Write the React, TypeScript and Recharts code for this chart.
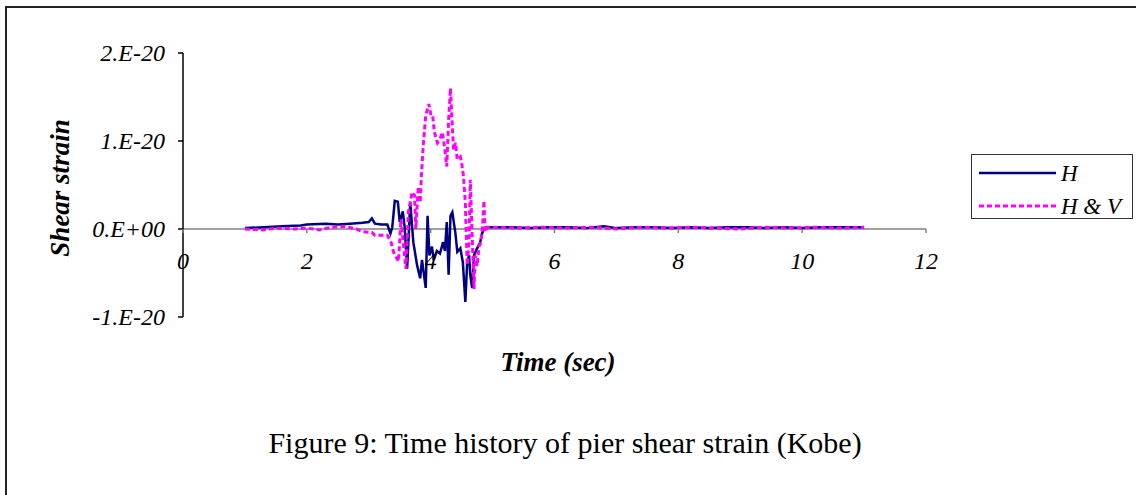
import React from "react";
import { LineChart, Line, XAxis, YAxis, ReferenceLine } from "recharts";

// ---- data (strain in units of 1E-20) ----
const hTime = [
  1.0, 1.3, 1.6, 1.9, 2.0, 2.3, 2.5, 2.7, 2.9, 3.0, 3.05, 3.1, 3.2, 3.3, 3.35, 3.38, 3.42, 3.47, 3.5, 3.55,
  3.58, 3.62, 3.67, 3.72, 3.78, 3.83, 3.86, 3.92, 3.95, 3.98, 4.02, 4.05, 4.1, 4.15, 4.2, 4.23, 4.26, 4.29,
  4.32, 4.35, 4.4, 4.43, 4.48, 4.52, 4.56, 4.59, 4.62, 4.64, 4.67, 4.7, 4.75, 4.8, 4.83, 4.86, 4.9, 5.0,
  5.3, 5.6, 5.9, 6.2, 6.5, 6.8, 7.0, 7.3, 7.6, 7.9, 8.2, 8.5, 8.8, 9.1, 9.4, 9.7, 10.0, 10.3, 10.6, 11.0,
];
const hStrain = [
  0.01, 0.02, 0.03, 0.04, 0.05, 0.06, 0.05, 0.06, 0.07, 0.08, 0.12, 0.06, 0.05, 0.05, -0.05, 0.02, 0.32, 0.31, 0.08, 0.2,
  0.02, -0.45, 0.3, -0.15, -0.41, -0.56, -0.35, -0.67, 0.15, -0.3, -0.2, -0.35, -0.25, -0.28, -0.15, -0.25, 0.08, -0.52,
  0.15, 0.19, -0.05, -0.26, -0.22, -0.38, -0.83, -0.38, -0.3, -0.52, -0.67, -0.3, -0.22, -0.15, -0.05, 0.0, 0.02, 0.02,
  0.02, 0.01, 0.02, 0.02, 0.01, 0.03, 0.01, 0.02, 0.02, 0.01, 0.02, 0.01, 0.02, 0.02, 0.01, 0.02, 0.01, 0.02, 0.02, 0.02,
];

const hvTime = [
  1.0, 1.3, 1.5, 1.8, 2.0, 2.2, 2.4, 2.6, 2.8, 2.9, 3.05, 3.1, 3.3, 3.36, 3.4, 3.48, 3.52, 3.6, 3.64, 3.7,
  3.74, 3.76, 3.8, 3.83, 3.85, 3.88, 3.92, 3.97, 4.0, 4.03, 4.06, 4.11, 4.15, 4.19, 4.23, 4.26, 4.29, 4.32,
  4.35, 4.37, 4.4, 4.43, 4.48, 4.5, 4.53, 4.56, 4.59, 4.62, 4.64, 4.67, 4.7, 4.72, 4.75, 4.78, 4.81, 4.84,
  4.86, 4.88, 4.92, 5.0, 5.4, 5.8, 6.2, 6.6, 7.0, 7.4, 7.8, 8.2, 8.6, 9.0, 9.4, 9.8, 10.2, 10.6, 11.0,
];
const hvStrain = [
  0.0, -0.01, 0.01, 0.0, 0.01, -0.01, 0.02, 0.03, 0.0, -0.03, -0.04, -0.07, -0.07, -0.15, -0.26, -0.37, 0.11, -0.45, 0.19, 0.42,
  0.38, 0.0, 0.48, 0.3, 0.6, 0.95, 1.29, 1.42, 1.31, 1.31, 1.1, 0.98, 1.02, 1.1, 0.9, 0.71, 1.24, 1.6,
  1.16, 0.9, 0.98, 0.79, 0.82, 0.75, 0.6, 0.3, -0.41, -0.15, 0.56, -0.07, -0.68, -0.3, -0.42, -0.2, -0.15, 0.05,
  0.32, -0.03, 0.02, 0.02, 0.01, 0.02, 0.01, 0.02, 0.0, 0.02, 0.01, 0.02, 0.01, 0.0, 0.02, 0.01, 0.02, 0.01, 0.02,
];

const xTicks = [0, 2, 4, 6, 8, 10, 12];
const yTicks = [-1, 0, 1, 2];
const seriesNames = ["H", "H & V"];
const seriesColors = ["#000080", "#FF00FF"];
const xTitle = "Time (sec)";
const yTitle = "Shear strain";
const caption = "Figure 9: Time history of pier shear strain (Kobe)";

const hData = hTime.map((t, i) => ({ t, v: hStrain[i] }));
const hvData = hvTime.map((t, i) => ({ t, v: hvStrain[i] }));

// ---- layout ----
const W = 1136;
const H = 495;
const PLOT_LEFT = 183;
const PLOT_RIGHT = 926;
const PLOT_TOP = 53;
const PLOT_BOTTOM = 317;
const Y_MIN = -1;
const Y_MAX = 2;
const ZERO_Y = PLOT_TOP + ((PLOT_BOTTOM - PLOT_TOP) * Y_MAX) / (Y_MAX - Y_MIN);
const FONT = "Liberation Serif";

const fmtY = (v: number) => (v === 0 ? "0.E+00" : `${v}.E-20`);

const XTick = (props: any) => {
  const { x, payload } = props;
  return (
    <g>
      <line x1={x} x2={x} y1={ZERO_Y} y2={ZERO_Y + 4} stroke="#808080" strokeWidth={1.5} />
      <text
        x={x}
        y={ZERO_Y + 40}
        textAnchor="middle"
        style={{ fontFamily: FONT, fontStyle: "italic", fontSize: 24 }}
        fill="#000"
      >
        {payload.value}
      </text>
    </g>
  );
};

const YTick = (props: any) => {
  const { x, y, payload } = props;
  return (
    <text
      x={x}
      y={y}
      textAnchor="end"
      dominantBaseline="central"
      style={{ fontFamily: FONT, fontStyle: "italic", fontSize: 24 }}
      fill="#000"
    >
      {fmtY(payload.value)}
    </text>
  );
};

export default function App() {
  return (
    <div style={{ position: "absolute", left: 0, top: 0, width: W, height: H, background: "#fff", overflow: "hidden", fontFamily: FONT }}>
      {/* frame */}
      <div style={{ position: "absolute", left: 5, top: 6, width: W, height: H, borderLeft: "2px solid #222", borderTop: "2px solid #222" }} />
      <div style={{ position: "absolute", left: 0, top: 0 }}>
        <LineChart
          width={W}
          height={H}
          margin={{ top: PLOT_TOP, left: PLOT_LEFT - 100, right: W - PLOT_RIGHT, bottom: H - PLOT_BOTTOM - 30 }}
        >
          <XAxis
            dataKey="t"
            type="number"
            domain={[0, 12]}
            ticks={xTicks}
            height={30}
            axisLine={false}
            tickLine={false}
            tick={<XTick />}
            allowDataOverflow
          />
          <YAxis
            type="number"
            domain={[Y_MIN, Y_MAX]}
            ticks={yTicks}
            width={100}
            axisLine={{ stroke: "#000", strokeWidth: 1.5 }}
            tickLine={{ stroke: "#000", strokeWidth: 1.5 }}
            tickSize={5}
            tickMargin={13}
            tick={<YTick />}
            allowDataOverflow
          />
          <ReferenceLine y={0} stroke="#808080" strokeWidth={1.5} />
          <Line
            data={hData}
            dataKey="v"
            name={seriesNames[0]}
            type="linear"
            stroke={seriesColors[0]}
            strokeWidth={2.5}
            dot={false}
            isAnimationActive={false}
          />
          <Line
            data={hvData}
            dataKey="v"
            name={seriesNames[1]}
            type="linear"
            stroke={seriesColors[1]}
            strokeWidth={3}
            strokeDasharray="5 3"
            dot={false}
            isAnimationActive={false}
          />
        </LineChart>
      </div>
      {/* titles */}
      <svg width={W} height={H} style={{ position: "absolute", left: 0, top: 0, pointerEvents: "none" }}>
        <text
          x={60}
          y={188}
          transform="rotate(-90 60 188)"
          textAnchor="middle"
          dominantBaseline="central"
          style={{ fontFamily: FONT, fontStyle: "italic", fontWeight: "bold", fontSize: 27 }}
          fill="#000"
        >
          {yTitle}
        </text>
        <text x={558} y={371} textAnchor="middle" style={{ fontFamily: FONT, fontStyle: "italic", fontWeight: "bold", fontSize: 27 }} fill="#000">
          {xTitle}
        </text>
        <text x={565} y={453} textAnchor="middle" style={{ fontFamily: FONT, fontSize: 30 }} fill="#000">
          {caption}
        </text>
      </svg>
      {/* legend */}
      <div
        style={{
          position: "absolute",
          left: 971,
          top: 154,
          width: 160,
          height: 63,
          border: "1.5px solid #333",
          background: "#fff",
        }}
      >
        <svg width={160} height={63}>
          {seriesNames.map((name, i) => (
            <g key={name}>
              <line
                x1={7}
                x2={84}
                y1={18 + i * 33}
                y2={18 + i * 33}
                stroke={seriesColors[i]}
                strokeWidth={i === 0 ? 2.5 : 3}
                strokeDasharray={i === 0 ? undefined : "5 3"}
              />
              <text
                x={89}
                y={18 + i * 33}
                dominantBaseline="central"
                style={{ fontFamily: FONT, fontStyle: "italic", fontSize: 23 }}
                fill="#000"
              >
                {name}
              </text>
            </g>
          ))}
        </svg>
      </div>
    </div>
  );
}
